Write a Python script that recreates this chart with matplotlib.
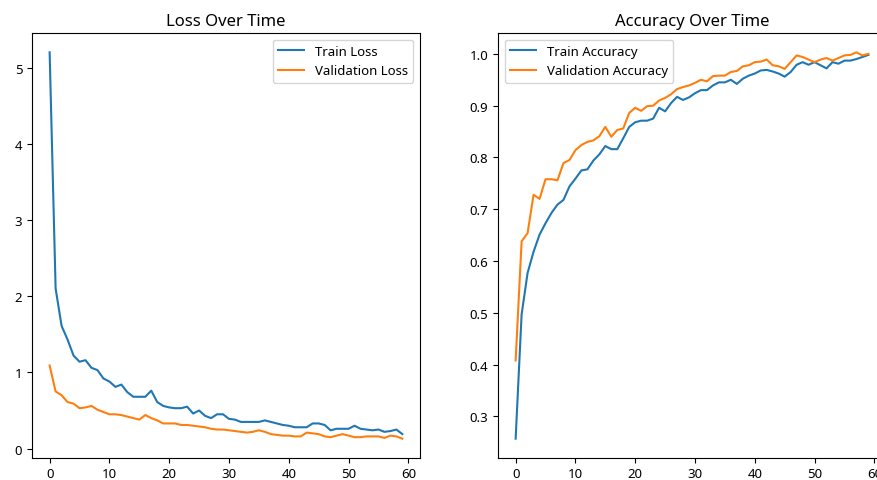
import matplotlib
matplotlib.use("Agg")
import matplotlib.pyplot as plt
import numpy as np

plt.rcParams['font.family'] = ['Noto Sans', 'DejaVu Sans']
plt.rcParams['xtick.labelsize'] = 9.5
plt.rcParams['ytick.labelsize'] = 9.5
plt.rcParams['legend.fontsize'] = 9.5

epochs = list(range(60))

train_loss = [5.20, 2.10, 1.61, 1.43, 1.22, 1.14, 1.16, 1.06, 1.03, 0.92,
              0.88, 0.81, 0.84, 0.74, 0.68, 0.68, 0.68, 0.76, 0.61, 0.56,
              0.54, 0.53, 0.53, 0.55, 0.46, 0.50, 0.43, 0.40, 0.45, 0.45,
              0.39, 0.38, 0.35, 0.35, 0.35, 0.35, 0.37, 0.35, 0.33, 0.31,
              0.30, 0.28, 0.28, 0.28, 0.33, 0.33, 0.31, 0.24, 0.26, 0.26,
              0.26, 0.30, 0.26, 0.25, 0.24, 0.25, 0.22, 0.23, 0.25, 0.19]
val_loss = [1.09, 0.75, 0.70, 0.61, 0.59, 0.53, 0.54, 0.56, 0.51, 0.48,
            0.45, 0.45, 0.44, 0.42, 0.40, 0.38, 0.44, 0.40, 0.37, 0.33,
            0.33, 0.33, 0.31, 0.31, 0.30, 0.29, 0.28, 0.26, 0.25, 0.25,
            0.24, 0.23, 0.22, 0.21, 0.22, 0.24, 0.22, 0.19, 0.18, 0.17,
            0.17, 0.16, 0.16, 0.21, 0.20, 0.19, 0.16, 0.15, 0.17, 0.19,
            0.17, 0.15, 0.15, 0.16, 0.16, 0.16, 0.14, 0.17, 0.16, 0.13]

train_acc = [0.257, 0.497, 0.577, 0.618, 0.651, 0.673, 0.693, 0.709, 0.718, 0.744,
             0.759, 0.775, 0.777, 0.794, 0.806, 0.822, 0.816, 0.816, 0.837, 0.859,
             0.868, 0.871, 0.871, 0.875, 0.896, 0.889, 0.905, 0.917, 0.911, 0.916,
             0.924, 0.930, 0.930, 0.939, 0.945, 0.945, 0.950, 0.942, 0.952, 0.958,
             0.962, 0.968, 0.969, 0.966, 0.962, 0.956, 0.965, 0.979, 0.984, 0.979,
             0.984, 0.978, 0.972, 0.984, 0.981, 0.987, 0.987, 0.990, 0.994, 0.998]
val_acc = [0.408, 0.638, 0.654, 0.728, 0.720, 0.758, 0.758, 0.756, 0.789, 0.795,
           0.814, 0.824, 0.830, 0.833, 0.841, 0.859, 0.840, 0.853, 0.856, 0.886,
           0.896, 0.890, 0.899, 0.900, 0.910, 0.915, 0.922, 0.932, 0.936, 0.939,
           0.944, 0.950, 0.947, 0.957, 0.958, 0.958, 0.965, 0.967, 0.976, 0.978,
           0.984, 0.985, 0.989, 0.978, 0.976, 0.971, 0.984, 0.997, 0.994, 0.989,
           0.984, 0.989, 0.992, 0.987, 0.992, 0.997, 0.998, 1.003, 0.997, 1.000]

W, H = 877, 481
fig = plt.figure(figsize=(W / 100, H / 100), dpi=100)

def rect(x0, x1, ytop, ybot):
    return [x0 / W, 1 - ybot / H, (x1 - x0) / W, (ybot - ytop) / H]

ax1 = fig.add_axes(rect(32, 420, 34, 459))
ax2 = fig.add_axes(rect(498, 886, 34, 459))

for ax in (ax1, ax2):
    ax.tick_params(axis='x', pad=3)

ax1.plot(epochs, train_loss, label='Train Loss')
ax1.plot(epochs, val_loss, label='Validation Loss')
ax1.set_title('Loss Over Time')
ax1.legend(loc='upper right')

ax2.plot(epochs, train_acc, label='Train Accuracy')
ax2.plot(epochs, val_acc, label='Validation Accuracy')
ax2.set_title('Accuracy Over Time')
ax2.legend(loc='upper left')

fig.savefig('out.png', dpi=100)
